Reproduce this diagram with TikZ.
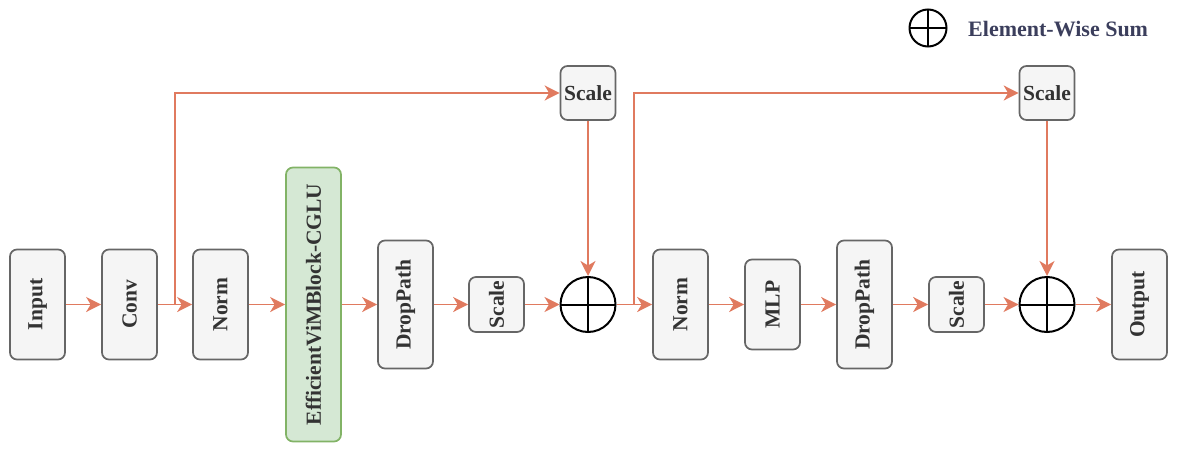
\documentclass[tikz,border=0pt]{standalone}
\usepackage{fontspec}
\setmainfont{Liberation Serif}
\usetikzlibrary{arrows.meta}

\definecolor{flowc}{HTML}{E07A5F}
\definecolor{boxline}{HTML}{666666}
\definecolor{boxfill}{HTML}{F5F5F5}
\definecolor{blockline}{HTML}{82B366}
\definecolor{blockfill}{HTML}{D5E8D4}
\definecolor{textgray}{HTML}{333333}
\definecolor{legendc}{HTML}{3B3E5C}

\begin{document}
\begin{tikzpicture}[x=1pt, y=-1pt,
    font=\fontsize{21.5}{25}\selectfont\bfseries,
    stage/.style={draw=boxline, fill=boxfill, rounded corners=7pt, line width=1.7pt,
      text=textgray, minimum width=55pt, inner sep=0pt},
    block/.style={stage, draw=blockline, fill=blockfill},
    addnode/.style={circle, draw=black, line width=2pt, minimum size=55pt, inner sep=0pt,
      path picture={\draw[line width=2pt]
        (path picture bounding box.north) -- (path picture bounding box.south)
        (path picture bounding box.west) -- (path picture bounding box.east);}},
    link/.style={draw=flowc, line width=1.9pt, -{Stealth[length=15pt, width=15pt, inset=4.5pt]}},
  ]
  \useasboundingbox (0,0) rectangle (1177,452);

  % first residual branch
  \node[stage, minimum height=110pt] (input) at (37.5,304.5) {\rotatebox{90}{Input}};
  \node[stage, minimum height=110pt] (conv) at (129.5,304.5) {\rotatebox{90}{Conv}};
  \node[stage, minimum height=110pt] (norm) at (220.5,304.5) {\rotatebox{90}{Norm}};
  \node[block, minimum height=274pt] (vim) at (313.5,304.5) {\rotatebox{90}{EfficientViMBlock-CGLU}};
  \node[stage, minimum height=128pt] (drop) at (405.5,304.5) {\rotatebox{90}{DropPath}};
  \node[stage, minimum height=55pt] (scale) at (496.5,304.5) {\rotatebox{90}{Scale}};
  \node[addnode] (sumA) at (588,304.5) {};
  \node[stage, minimum height=54pt] (scaleA) at (588,93) {Scale};
  \coordinate (br1) at (175,304.5);

  % second residual branch
  \node[stage, minimum height=110pt] (norm2) at (680.5,304.5) {\rotatebox{90}{Norm}};
  \node[stage, minimum height=90pt] (mlp) at (772.5,304.5) {\rotatebox{90}{MLP}};
  \node[stage, minimum height=128pt] (drop2) at (864.5,304.5) {\rotatebox{90}{DropPath}};
  \node[stage, minimum height=55pt] (scale2) at (956.5,304.5) {\rotatebox{90}{Scale}};
  \node[addnode] (sumB) at (1047,304.5) {};
  \node[stage, minimum height=54pt] (scaleB) at (1047,93) {Scale};
  \node[stage, minimum height=110pt] (output) at (1139.5,304.5) {\rotatebox{90}{Output}};
  \coordinate (br2) at (634,304.5);

  % legend
  \node[addnode, minimum size=37pt] (legsum) at (928,28) {};
  \node[anchor=west, text=legendc, inner sep=0pt, font=\fontsize{22}{26}\selectfont\bfseries]
    (legtext) at (968,29) {Element-Wise Sum};

  \draw[link] (input) -- (conv);
  \draw[link] (conv) -- (norm);
  \draw[link] (norm) -- (vim);
  \draw[link] (vim) -- (drop);
  \draw[link] (drop) -- (scale);
  \draw[link] (scale) -- (sumA);
  \draw[link] (br1) |- (scaleA);
  \draw[link] (scaleA) -- (sumA);
  \draw[link] (sumA) -- (norm2);
  \draw[link] (norm2) -- (mlp);
  \draw[link] (mlp) -- (drop2);
  \draw[link] (drop2) -- (scale2);
  \draw[link] (scale2) -- (sumB);
  \draw[link] (br2) |- (scaleB);
  \draw[link] (scaleB) -- (sumB);
  \draw[link] (sumB) -- (output);
\end{tikzpicture}
\end{document}
